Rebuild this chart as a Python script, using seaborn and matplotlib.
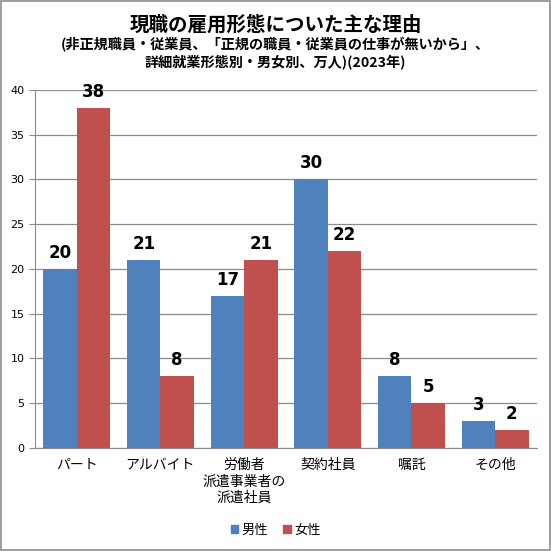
import pandas as pd
import matplotlib.pyplot as plt
import seaborn as sns

# data
categories = ["パート", "アルバイト", "労働者\n派遣事業者の\n派遣社員", "契約社員", "嘱託", "その他"]
male = [20, 21, 17, 30, 8, 3]
female = [38, 8, 21, 22, 5, 2]
series = ["男性", "女性"]
colors = ["#4F81BD", "#C0504D"]

df = pd.DataFrame({
    "category": categories * 2,
    "sex": [series[0]] * len(categories) + [series[1]] * len(categories),
    "value": male + female,
})

sns.set_style("white")
plt.rcParams["font.family"] = ["Noto Sans CJK JP", "DejaVu Sans"]
plt.rcParams["text.color"] = "black"

fig = plt.figure(figsize=(5.51, 5.51), dpi=100)
ax = fig.add_axes([0.0635, 0.187, 0.911, 0.65])

sns.barplot(data=df, x="category", y="value", hue="sex", palette=colors,
            width=0.8, saturation=1, linewidth=0, ax=ax, legend=False)

for cont in ax.containers:
    ax.bar_label(cont, fmt="%d", padding=5, fontsize=12, fontweight="bold",
                 family="DejaVu Sans", color="black")

ax.set_ylim(0, 40)
ax.set_yticks(range(0, 41, 5))
ax.yaxis.grid(True, color="#8c8c8c", linewidth=0.9)
ax.set_axisbelow(True)
ax.set_xlabel("")
ax.set_ylabel("")
for s in ["top", "right"]:
    ax.spines[s].set_visible(False)
for s in ["left", "bottom"]:
    ax.spines[s].set_color("#8c8c8c")
ax.tick_params(axis="y", labelsize=8, length=4, color="#8c8c8c", direction="out",
               left=True, labelcolor="black")
ax.tick_params(axis="x", labelsize=10, length=0, pad=7, labelcolor="black")
for lbl in ax.get_xticklabels():
    lbl.set_linespacing(1.25)
for lbl in ax.get_yticklabels():
    lbl.set_family("DejaVu Sans")

handles = [plt.Rectangle((0, 0), 1, 1, color=c) for c in colors]
fig.legend(handles, series, loc="center", bbox_to_anchor=(0.5, 0.038), ncol=2,
           frameon=False, fontsize=9.5, handlelength=0.6, handleheight=0.6,
           handletextpad=0.2, columnspacing=1.2, labelcolor="black")

fig.text(0.5, 0.955, "現職の雇用形態についた主な理由", ha="center", va="center",
         fontsize=14, fontweight="bold")
fig.text(0.5, 0.903, "(非正規職員・従業員、「正規の職員・従業員の仕事が無いから」、\n詳細就業形態別・男女別、万人)(2023年)",
         ha="center", va="center", fontsize=10.2, fontweight="bold", linespacing=1.3)

fig.patches.append(plt.Rectangle((0.002, 0.002), 0.996, 0.996, transform=fig.transFigure,
                                 fill=False, edgecolor="#8c8c8c", linewidth=1.2))

fig.savefig("out.png", dpi=100)
